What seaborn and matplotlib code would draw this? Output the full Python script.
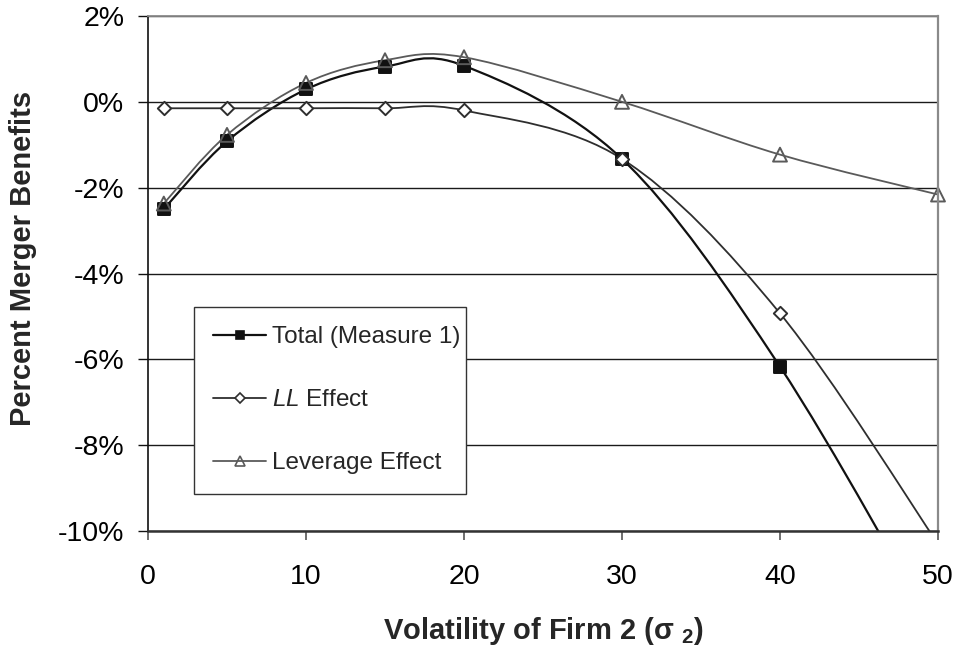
import numpy as np
import pandas as pd
import matplotlib
matplotlib.use("Agg")
import matplotlib.pyplot as plt
import seaborn as sns
from matplotlib.path import Path
from matplotlib.patches import PathPatch
from matplotlib.lines import Line2D
from matplotlib.ticker import FuncFormatter

# Volatility of firm 2 and the three components of merger benefits (in %)
sigma2 = [1, 5, 10, 15, 20, 30, 40, 50]
total_measure1 = [-2.50, -0.92, 0.29, 0.82, 0.84, -1.33, -6.17, -12.46]
ll_effect = [-0.15, -0.15, -0.15, -0.15, -0.20, -1.33, -4.93, -10.30]
leverage_effect = [-2.37, -0.77, 0.44, 0.97, 1.04, 0.00, -1.23, -2.16]

series_names = ["Total (Measure 1)", "$\\mathit{LL}$ Effect", "Leverage Effect"]
x_ticks = [0, 10, 20, 30, 40, 50]
y_ticks = [-10, -8, -6, -4, -2, 0, 2]

sns.set_style("ticks")
plt.rcParams["font.family"] = ["Liberation Sans", "DejaVu Sans"]
plt.rcParams["mathtext.fontset"] = "custom"
plt.rcParams["mathtext.rm"] = "Liberation Sans"
plt.rcParams["mathtext.it"] = "Liberation Sans:italic"
plt.rcParams["mathtext.bf"] = "Liberation Sans:bold"

df = pd.DataFrame({
    "sigma2": sigma2 * 3,
    "value": total_measure1 + ll_effect + leverage_effect,
    "series": [series_names[0]] * len(sigma2) + [series_names[1]] * len(sigma2)
              + [series_names[2]] * len(sigma2),
})

fig = plt.figure(figsize=(9.59, 6.5), dpi=100)
ax = fig.add_axes([148 / 959, 119 / 650, 790 / 959, 515 / 650])

styles = {
    series_names[0]: dict(color="#111111", lw=1.6, marker="s", ms=8.0, lms=6.0,
                          face="#111111", clip=True),
    series_names[1]: dict(color="#2e2e2e", lw=1.3, marker="D", ms=6.8, lms=5.5,
                          face="white", clip=True),
    series_names[2]: dict(color="#5a5a5a", lw=1.3, marker="^", ms=10.0, lms=7.5,
                          face="none", clip=False),
}


def smooth_path(xs, ys):
    """Bezier path through the points (Catmull-Rom style control points)."""
    pts = np.column_stack([xs, ys]).astype(float)
    n = len(pts)
    verts = [pts[0]]
    codes = [Path.MOVETO]
    for i in range(n - 1):
        p0 = pts[i - 1] if i > 0 else pts[i]
        p1, p2 = pts[i], pts[i + 1]
        p3 = pts[i + 2] if i + 2 < n else pts[i + 1]
        verts += [p1 + (p2 - p0) / 6.0, p2 - (p3 - p1) / 6.0, p2]
        codes += [Path.CURVE4] * 3
    return Path(verts, codes)


for z, name in enumerate(series_names):
    st = styles[name]
    sub = df[df["series"] == name]
    patch = PathPatch(smooth_path(sub["sigma2"], sub["value"]), fill=False,
                      edgecolor=st["color"], lw=st["lw"], zorder=2 + z,
                      transform=ax.transData)
    ax.add_patch(patch)
    sns.scatterplot(data=sub, x="sigma2", y="value", ax=ax, marker=st["marker"],
                    s=st["ms"] ** 2, facecolor=st["face"], edgecolor=st["color"],
                    linewidth=1.4, zorder=5 + z, legend=False, clip_on=st["clip"])

ax.set_xlim(0, 50)
ax.set_ylim(-10, 2)
ax.set_xticks(x_ticks)
ax.set_yticks(y_ticks)
ax.yaxis.set_major_formatter(FuncFormatter(lambda v, _: f"{v:.0f}%"))

# horizontal gridlines
ax.yaxis.grid(True, color="#1a1a1a", lw=1.0)
ax.set_axisbelow(True)

for side, col, lw in [("left", "#111111", 1.2), ("bottom", "#333333", 1.8),
                      ("top", "#8a8a8a", 1.3), ("right", "#8a8a8a", 1.6)]:
    ax.spines[side].set_visible(True)
    ax.spines[side].set_color(col)
    ax.spines[side].set_linewidth(lw)
    ax.spines[side].set_zorder(10)

ax.tick_params(axis="y", direction="out", length=7, width=1.0, color="#111111",
               labelsize=20.5, pad=10, labelcolor="black")
ax.tick_params(axis="x", direction="out", length=6.5, width=1.2, color="#555555",
               labelsize=20.5, pad=17, labelcolor="black")

ax.set_xlabel("Volatility of Firm 2 (σ $_{\\mathbf{2}}$)", fontsize=21,
              fontweight="bold")
ax.xaxis.set_label_coords(0.5, -0.163)
ax.set_ylabel("Percent Merger Benefits", fontsize=21, fontweight="bold")
ax.yaxis.set_label_coords(-0.141, 0.53)

handles = []
for name in series_names:
    st = styles[name]
    handles.append(Line2D([0], [0], color=st["color"], lw=st["lw"], marker=st["marker"],
                          markersize=st["lms"], markerfacecolor=st["face"],
                          markeredgecolor=st["color"], markeredgewidth=1.2))
leg = ax.legend(handles, series_names, loc="upper left",
                bbox_to_anchor=(46 / 790, 224 / 515, 272 / 790, 0.0), mode="expand",
                borderaxespad=0, fontsize=17.5, frameon=True, fancybox=False,
                borderpad=0.8, labelspacing=1.68, handlelength=2.15,
                handletextpad=0.25)
leg.get_frame().set_edgecolor("#333333")
leg.get_frame().set_linewidth(1.0)
leg.get_frame().set_facecolor("white")
leg.get_frame().set_alpha(1.0)
leg.set_zorder(20)

fig.savefig("out.png", dpi=100, facecolor="white")
